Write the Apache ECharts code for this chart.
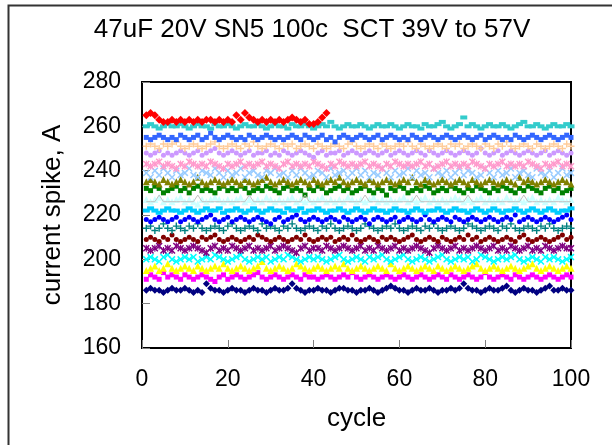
<!DOCTYPE html>
<html>
<head>
<meta charset="utf-8">
<script src="https://cdn.jsdelivr.net/npm/echarts@6/dist/echarts.min.js"></script>
<style>
html,body{margin:0;padding:0;background:#fff;}
#chart{width:612px;height:445px;}
</style>
</head>
<body>
<div id="chart"></div>
<script>
var titleText = '47uF 20V SN5 100c  SCT 39V to 57V';
var xTicks = [0, 20, 40, 60, 80, 100];
var yTicks = [160, 180, 200, 220, 240, 260, 280];

var navy = [186,187,186,186,185,186,187,186,186,187,
186,185,186,185,189,187,186,186,185,186,
187,186,186,185,186,187,186,186,185,186,
187,186,186,187,189,187,186,185,186,186,
187,186,186,185,186,187,187,186,186,185,
186,186,187,186,185,186,187,188,187,186,
186,185,186,187,186,186,187,186,185,186,
186,187,186,187,189,187,186,186,185,186,
187,186,186,187,188,186,185,186,187,186,
186,185,186,187,188,186,186,187,186,186];
var magenta = [191,193,192,191,194,192,193,192,191,193,
192,191,192,193,192,191,190,192,193,191,
192,193,192,191,192,193,194,192,191,192,
193,192,191,192,193,192,191,193,192,192,
191,192,193,192,191,192,193,192,194,192,
191,192,193,192,191,192,193,192,191,192,
193,192,191,192,193,192,191,192,193,192,
191,193,192,191,192,193,192,191,192,194,
192,191,192,193,192,191,193,192,191,192,
193,192,191,192,193,192,191,192,193,192];
var yellow = [195,196,197,195,196,198,196,195,196,197,
196,195,197,196,195,196,197,196,198,196,
195,196,197,196,195,196,197,199,196,195,
196,197,196,195,196,198,197,196,195,196,
197,196,195,196,197,196,198,196,195,196,
197,196,195,196,197,196,195,198,196,195,
196,197,196,195,196,197,196,195,197,196,
195,196,197,196,195,196,197,198,196,195,
196,197,196,195,196,197,196,195,196,197,
198,196,195,196,197,196,195,196,197,196];
var cyan = [200,201,200,199,201,202,200,199,200,201,
200,201,199,200,201,200,202,201,200,199,
200,201,202,200,199,200,201,200,201,199,
200,201,200,202,201,200,199,200,201,200,
201,200,199,200,201,202,200,199,200,201,
200,199,201,200,201,202,200,199,200,201,
202,200,199,200,201,200,199,200,201,202,
200,199,200,201,200,201,199,200,202,201,
200,199,200,201,200,201,202,200,199,200,
201,200,199,201,200,201,200,199,200,201];
var purple = [205,204,205,206,204,205,204,206,205,204,
205,206,205,204,203,205,206,204,205,204,
206,205,204,205,206,204,205,204,205,206,
204,205,206,205,204,203,205,206,204,205,
205,204,206,205,204,205,206,205,204,205,
206,204,205,204,206,205,204,205,206,204,
205,204,205,206,205,204,203,205,206,205,
204,205,206,204,205,204,205,206,205,204,
205,206,204,205,204,206,205,204,205,206,
204,205,204,206,205,204,205,206,205,205];
var darkRed = [209,210,209,208,210,209,211,209,208,209,
210,209,208,210,209,210,211,209,208,209,
210,209,208,209,210,209,211,210,209,208,
209,210,209,208,209,210,209,211,209,208,
209,210,209,210,208,209,210,209,211,209,
208,209,210,209,208,210,209,210,209,208,
209,210,211,209,208,209,210,209,208,210,
209,208,209,210,209,211,209,210,208,209,
210,209,208,209,210,209,208,210,211,209,
208,209,210,209,208,209,210,211,209,210];
var teal = [214,215,213,214,216,214,213,215,214,213,
215,214,216,214,213,214,215,214,213,215,
216,214,213,214,215,214,213,216,214,215,
214,213,215,214,216,214,213,214,215,214,
213,215,214,216,214,213,214,215,214,213,
214,216,215,214,213,214,215,214,216,214,
213,214,215,214,213,215,214,216,214,213,
214,215,214,213,214,216,215,214,213,214,
215,214,213,215,214,216,214,213,214,215,
214,213,215,214,216,214,213,214,215,214];
var blue = [218,217,218,219,218,217,218,219,217,218,
219,218,217,218,219,220,218,217,218,219,
217,218,219,218,217,218,219,218,217,216,
218,219,217,218,219,220,218,217,218,219,
218,217,218,219,218,217,219,218,217,218,
219,218,216,218,219,218,217,218,219,217,
218,219,218,217,218,220,218,217,218,219,
218,217,219,218,217,218,219,218,217,218,
219,218,217,218,219,218,220,217,218,219,
218,217,218,219,218,217,218,219,220,218];
var skyBlue = [222,223,222,221,222,223,222,222,221,222,
223,222,221,222,223,222,222,223,221,222,
222,223,222,221,222,223,222,221,222,223,
222,222,221,223,222,222,223,221,222,222,
223,222,221,222,222,223,222,221,222,223,
222,221,222,223,222,222,221,222,223,222,
222,221,222,223,222,221,222,222,223,222,
221,222,223,222,222,221,222,223,222,221,
222,223,222,221,222,222,223,222,221,222,
223,222,221,222,223,222,221,222,222,223];
var lightCyan = [227,226,227,228,226,227,226,227,228,226,
227,226,225,227,226,227,228,227,226,227,
226,227,228,226,227,226,227,226,228,227,
226,227,226,227,228,226,227,226,227,226,
227,228,226,227,226,227,226,228,227,226,
227,226,227,228,226,227,226,227,226,227,
228,226,227,226,227,228,226,227,226,227,
226,227,228,227,226,227,226,227,228,226,
227,226,227,226,228,227,226,227,226,227,
228,226,227,226,227,226,228,227,226,227];
var silverLine = [226,226,226,229,226,226,226,226,226,226,
226,226,229,226,226,226,226,226,226,226,
226,226,226,226,229,226,226,226,226,226,
226,226,226,226,226,226,226,229,226,226,
226,226,226,226,226,226,226,226,226,226,
226,229,226,226,226,226,226,226,226,226,
226,226,226,229,226,226,226,226,226,226,
226,226,226,226,226,229,226,226,226,226,
226,226,226,226,226,226,226,226,229,226,
226,226,226,226,226,226,226,226,226,226];
var green = [232,231,233,232,230,231,232,233,231,232,
230,232,233,231,232,231,230,232,233,231,
232,231,233,232,230,231,232,231,233,232,
231,230,232,233,231,232,231,229,232,231,
233,232,230,231,232,233,231,232,230,231,
232,233,231,230,232,231,229,232,231,233,
232,230,231,232,231,233,232,230,231,232,
231,233,232,231,230,232,231,233,232,231,
230,232,231,233,232,231,230,232,231,233,
232,231,230,232,233,231,232,230,231,232];
var olive = [235,236,235,234,236,235,234,235,236,235,
234,235,237,235,234,235,236,235,234,235,
236,235,234,236,235,234,235,236,237,235,
234,235,236,235,234,235,236,235,234,236,
235,234,235,236,235,237,235,234,235,236,
235,234,236,235,234,235,236,235,234,235,
236,235,237,235,234,236,235,234,235,236,
235,234,235,236,235,234,236,235,234,235,
236,235,234,235,236,235,234,237,235,236,
235,234,235,236,235,234,235,236,235,234];
var paleBlue = [239,237,240,238,241,239,237,240,238,239,
241,238,237,240,239,238,241,239,237,240,
238,239,241,237,239,240,238,237,240,239,
241,238,239,237,240,238,241,239,237,238,
240,239,237,241,238,239,240,237,239,241,
238,240,237,239,238,241,239,237,240,238,
239,241,237,240,238,239,237,241,239,238,
240,237,239,241,238,240,239,237,238,241,
239,237,240,238,239,241,237,239,240,238,
237,241,239,238,240,237,239,241,238,239];
var rose = [243,242,243,244,242,243,242,241,243,242,
244,243,242,243,242,244,243,242,241,243,
242,243,244,242,243,242,243,244,242,243,
242,241,243,244,242,243,242,243,242,244,
243,242,241,243,242,244,243,242,243,242,
243,244,242,243,242,241,243,242,244,243,
242,243,242,243,244,242,243,241,242,243,
244,242,243,242,243,242,244,243,242,241,
243,242,243,244,242,243,242,243,242,244,
243,242,241,243,242,243,244,242,243,242];
var lavender = [248,247,248,249,247,248,247,248,249,248,
247,248,249,247,248,249,250,248,247,248,
249,248,247,248,249,247,248,248,249,247,
248,247,249,248,247,248,249,248,247,246,
248,249,247,248,248,249,247,248,249,248,
247,248,249,248,247,248,249,247,248,249,
248,247,248,249,248,247,249,248,247,248,
249,248,247,248,249,248,247,248,250,248,
247,248,249,247,248,249,248,247,248,249,
248,247,248,249,247,248,249,248,247,248];
var tan = [251,252,251,250,252,251,252,253,251,250,
251,252,251,250,251,252,253,251,250,251,
252,251,250,252,251,253,251,250,251,252,
251,250,252,251,252,250,251,252,251,250,
252,251,250,251,252,251,250,252,253,251,
250,251,252,251,250,252,251,250,251,252,
251,253,251,250,252,251,250,251,252,251,
250,252,251,252,250,251,252,251,250,252,
251,250,252,251,253,251,250,251,252,251,
250,252,251,250,251,252,251,250,252,251];
var royalBlue = [255,254,255,256,255,254,255,254,256,255,
254,255,256,254,255,257,255,254,255,256,
255,254,255,254,256,255,254,255,256,255,
254,255,254,255,256,255,254,256,255,254,
255,256,254,255,253,255,256,255,254,255,
256,255,254,255,256,254,255,256,255,254,
255,254,256,255,254,255,256,255,254,255,
256,255,254,255,256,255,254,255,256,254,
255,256,255,254,255,254,256,255,254,255,
256,255,254,255,256,255,254,255,256,255];
var aqua = [260,261,260,259,260,261,260,260,261,260,
259,260,261,260,260,259,261,260,260,261,
260,259,260,261,260,260,261,260,259,260,
261,260,260,259,261,260,260,261,260,259,
260,261,260,262,260,259,260,261,260,260,
261,260,259,260,261,260,260,261,260,259,
260,261,260,260,259,261,260,260,261,262,
260,259,260,261,264,260,261,260,259,260,
261,260,260,261,260,259,260,261,262,260,
260,261,260,259,260,261,260,260,261,260];
var red = [265,266,265,263,262,262,263,262,263,262,
263,262,263,262,263,263,262,263,262,263,
262,265,263,266,264,263,262,263,262,263,
262,263,262,263,264,263,262,263,261,261,
262,264,266];

var X_PATH = 'path://M0,1.5L1.5,0L5,3.5L8.5,0L10,1.5L6.5,5L10,8.5L8.5,10L5,6.5L1.5,10L0,8.5L3.5,5Z';
var PLUS_PATH = 'path://M4,0H6V4H10V6H6V10H4V6H0V4H4Z';
var STAR_PATH = 'path://M0,1.5L1.5,0L5,3.5L8.5,0L10,1.5L6.5,5L10,8.5L8.5,10L5,6.5L1.5,10L0,8.5L3.5,5Z M4.2,0H5.8V10H4.2Z';

function pts(arr) { return arr.map(function (v, i) { return [i + 1, v]; }); }
function sc(name, arr, color, symbol, size) {
  return { name: name, type: 'scatter', data: pts(arr), symbol: symbol, symbolSize: size,
    itemStyle: { color: color, opacity: 1 }, emphasis: { disabled: true }, silent: true };
}

var series = [
  sc('navy', navy, '#000080', 'diamond', 7),
  sc('magenta', magenta, '#FF00FF', 'rect', 5),
  sc('yellow', yellow, '#FFFF00', 'triangle', 7),
  sc('cyan', cyan, '#00FFFF', X_PATH, 7),
  sc('purple', purple, '#800080', STAR_PATH, 7),
  sc('darkRed', darkRed, '#800000', 'circle', 5),
  sc('teal', teal, '#008080', PLUS_PATH, 7),
  sc('blue', blue, '#0000FF', 'circle', 5),
  sc('skyBlue', skyBlue, '#00CCFF', 'rect', [7, 4]),
  { name: 'silver', type: 'line', data: pts(silverLine), symbol: 'none', silent: true,
    lineStyle: { color: '#C0C0C0', width: 1 } },
  sc('lightCyan', lightCyan, '#CCFFFF', 'triangle', 7),
  sc('green', green, '#008000', 'rect', 5),
  sc('olive', olive, '#808000', 'triangle', 7),
  sc('paleBlue', paleBlue, '#99CCFF', X_PATH, 7),
  sc('rose', rose, '#FF99CC', STAR_PATH, 7),
  sc('lavender', lavender, '#CC99FF', 'circle', 5),
  sc('tan', tan, '#FFCC99', PLUS_PATH, 7),
  sc('royalBlue', royalBlue, '#3366FF', 'rect', 5),
  sc('aqua', aqua, '#33CCCC', 'rect', [7, 4]),
  sc('red', red, '#FF0000', 'diamond', 8)
];

var FONT = '"Liberation Sans", Arial, sans-serif';
var chart = echarts.init(document.getElementById('chart'), null, { renderer: 'canvas' });
chart.setOption({
  animation: false,
  backgroundColor: '#ffffff',
  title: {
    text: titleText, left: 312, top: 17, textAlign: 'center', padding: 0,
    textStyle: { fontFamily: FONT, fontSize: 26, fontWeight: 'normal', color: '#000' }
  },
  graphic: [{
    type: 'rect', silent: true, z: 100,
    shape: { x: 8.5, y: 5.5, width: 800, height: 800 },
    style: { fill: 'none', stroke: '#333333', lineWidth: 2 }
  }],
  grid: { left: 142, right: 41, top: 82, bottom: 97, show: true, borderColor: '#000', borderWidth: 2, backgroundColor: '#fff',
    containLabel: false, outerBoundsMode: 'none' },
  xAxis: {
    type: 'value', min: xTicks[0], max: xTicks[xTicks.length - 1], interval: 20,
    name: 'cycle', nameLocation: 'middle', nameGap: 58,
    nameTextStyle: { fontFamily: FONT, fontSize: 26, color: '#000' },
    axisLine: { show: true, lineStyle: { color: '#000', width: 2 } },
    axisTick: { show: true, inside: true, length: 8, lineStyle: { color: '#808080', width: 1 } },
    axisLabel: { margin: 20, fontFamily: FONT, fontSize: 23, color: '#000' },
    splitLine: { show: false }
  },
  yAxis: {
    type: 'value', min: yTicks[0], max: yTicks[yTicks.length - 1], interval: 20,
    name: 'current spike, A', nameLocation: 'middle', nameGap: 76, nameRotate: 90,
    nameTextStyle: { fontFamily: FONT, fontSize: 26, color: '#000' },
    axisLine: { show: true, lineStyle: { color: '#000', width: 2 } },
    axisTick: { show: true, inside: true, length: 8, lineStyle: { color: '#808080', width: 1 } },
    axisLabel: { margin: 21, fontFamily: FONT, fontSize: 23, color: '#000' },
    splitLine: { show: false }
  },
  series: series
});
</script>
</body>
</html>
